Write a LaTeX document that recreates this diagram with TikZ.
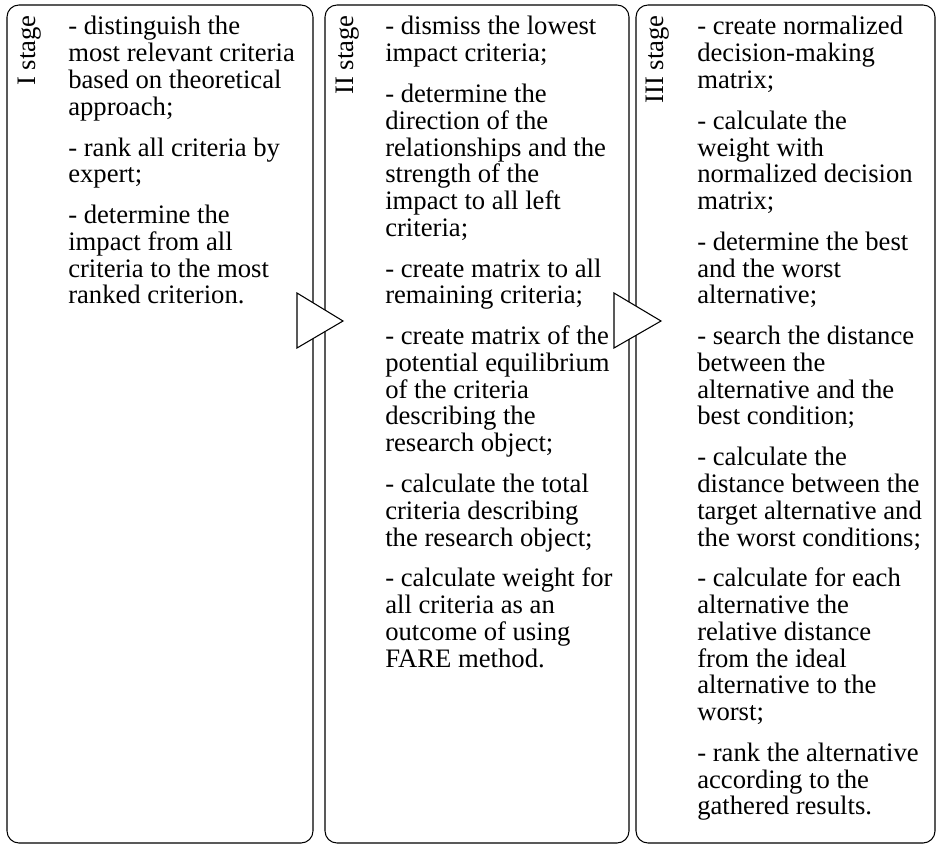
\documentclass[tikz,border=0pt]{standalone}
\usepackage{fontspec}
\setmainfont{Liberation Serif}
\usetikzlibrary{fit}
\newcommand\pgap{\\[10.4pt]}
\tikzset{
  stagebox/.style={draw, line width=0.8pt, rounded corners=9pt, inner sep=0pt},
  stagelabel/.style={rotate=90, anchor=base east, inner sep=0pt, font=\fontsize{20}{20.1}\selectfont},
  stagetext/.style={anchor=base west, inner sep=0pt, font=\fontsize{20}{20.1}\selectfont},
  flowarrow/.style={draw, fill=white, line width=0.8pt, line join=miter},
}
\begin{document}
\begin{tikzpicture}[x=0.75pt, y=-0.75pt]
\useasboundingbox (0,0) rectangle (939,845);
% boxes
\node[stagebox, fit={(7,5) (313,843)}] (box1) {};
\node[stagebox, fit={(325,5) (629,843)}] (box2) {};
\node[stagebox, fit={(636,5) (935,843)}] (box3) {};
% labels
\node[stagelabel] (lab1) at (35,15) {I stage};
\node[stagelabel] (lab2) at (353,15) {II stage};
\node[stagelabel] (lab3) at (663,15) {III stage};
% texts
\node[stagetext] (txt1) at (68,35) {\parbox[t]{260pt}{\raggedright
- distinguish the\\ most relevant criteria\\ based on theoretical\\ approach;\pgap
- rank all criteria by\\ expert;\pgap
- determine the\\ impact from all\\ criteria to the most\\ ranked criterion.}};
\node[stagetext] (txt2) at (385,35) {\parbox[t]{260pt}{\raggedright
- dismiss the lowest\\ impact criteria;\pgap
- determine the\\ direction of the\\ relationships and the\\ strength of the\\ impact to all left\\ criteria;\pgap
- create matrix to all\\ remaining criteria;\pgap
- create matrix of the\\ potential equilibrium\\ of the criteria\\ describing the\\ research object;\pgap
- calculate the total\\ criteria describing\\ the research object;\pgap
- calculate weight for\\ all criteria as an\\ outcome of using\\ FARE method.}};
\node[stagetext] (txt3) at (697,35) {\parbox[t]{260pt}{\raggedright
- create normalized\\ decision-making\\ matrix;\pgap
- calculate the\\ weight with\\ normalized decision\\ matrix;\pgap
- determine the best\\ and the worst\\ alternative;\pgap
- search the distance\\ between the\\ alternative and the\\ best condition;\pgap
- calculate the\\ distance between the\\ target alternative and\\ the worst conditions;\pgap
- calculate for each\\ alternative the\\ relative distance\\ from the ideal\\ alternative to the\\ worst;\pgap
- rank the alternative\\ according to the\\ gathered results.}};
% arrows between stages
\coordinate (a1t) at (297,293);
\coordinate (a1b) at (297,348);
\coordinate (a1p) at (343,321);
\coordinate (a2t) at (614,293);
\coordinate (a2b) at (614,348);
\coordinate (a2p) at (661,321);
\path[flowarrow] (a1t) -- (a1p) -- (a1b) -- cycle;
\path[flowarrow] (a2t) -- (a2p) -- (a2b) -- cycle;
\end{tikzpicture}
\end{document}
